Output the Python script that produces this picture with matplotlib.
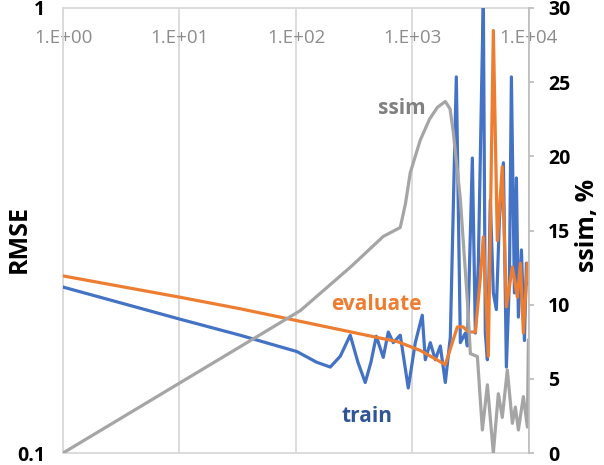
import numpy as np
import matplotlib.pyplot as plt
from matplotlib.ticker import NullLocator

plt.rcParams['font.family'] = ['Open Sans', 'DejaVu Sans']

# train RMSE
train_x = [1, 10, 33, 102, 150, 197, 240, 292, 340, 393, 440, 489, 561, 620, 684, 785,
           920, 1057, 1213, 1288, 1422, 1570, 1733, 1913, 2112, 2378, 2576, 2843, 2958,
           3265, 3465, 3676, 3899, 4056, 4219, 4395, 4656, 4943, 5248, 5570, 6030,
           6397, 6792, 7063, 7499, 7798, 8110, 8610, 9141, 9506, 9885]
train_rmse = [0.236, 0.200, 0.184, 0.169, 0.160, 0.156, 0.165, 0.184, 0.160, 0.144,
              0.160, 0.183, 0.164, 0.187, 0.177, 0.184, 0.140, 0.177, 0.204, 0.162,
              0.177, 0.162, 0.174, 0.144, 0.182, 0.700, 0.177, 0.186, 0.174, 0.460,
              0.186, 0.267, 0.612, 1.05, 0.186, 0.162, 0.370, 0.229, 0.210, 0.334,
              0.449, 0.156, 0.245, 0.700, 0.229, 0.415, 0.202, 0.286, 0.179, 0.267,
              0.241]

# evaluate RMSE
eval_x = [1, 10, 33, 489, 740, 1167, 1913, 2427, 2729, 3015, 3465, 3823, 4056, 4478,
          4943, 5350, 5900, 6400, 7200, 7950, 8440, 8950, 9690, 9885]
eval_rmse = [0.250, 0.224, 0.211, 0.182, 0.178, 0.170, 0.158, 0.192, 0.192, 0.187,
             0.187, 0.248, 0.306, 0.165, 0.890, 0.300, 0.440, 0.213, 0.262, 0.224,
             0.267, 0.186, 0.267, 0.245]

# ssim, %
ssim_x = [1, 109, 300, 561, 785, 870, 957, 1167, 1400, 1635, 1913, 2100, 2243, 2576,
          2958, 3140, 3606, 3980, 4395, 4943, 5457, 5900, 6518, 7200, 7640, 8110,
          8950, 9690, 9885]
ssim_pct = [0, 9.6, 12.6, 14.6, 15.2, 16.8, 18.9, 21.1, 22.5, 23.3, 23.7, 23.2, 21.6,
            17.1, 10.3, 6.7, 6.5, 1.55, 4.6, 0, 4.0, 2.4, 5.6, 2.0, 3.1, 1.55, 3.8,
            1.75, 7.6]

x_ticks = [1, 10, 100, 1000, 10000]
x_labels = ['1.E+00', '1.E+01', '1.E+02', '1.E+03', '1.E+04']
rmse_ticks = [0.1, 1]
rmse_labels = ['0.1', '1']
ssim_ticks = [0, 5, 10, 15, 20, 25, 30]

blue = '#4472C4'
orange = '#ED7D31'
gray = '#A5A5A5'
grid_c = '#D9D9D9'

fig = plt.figure(figsize=(6.04, 4.65), dpi=100)
ax = fig.add_axes([0.1043, 0.0258, 0.7715, 0.957])
ax.set_xscale('log')
ax.set_yscale('log')
ax.set_xlim(1, 1e4)
ax.set_ylim(0.1, 1)

ax.plot(train_x, train_rmse, color=blue, lw=2.3, zorder=3, solid_joinstyle='round')
ax.plot(eval_x, eval_rmse, color=orange, lw=2.3, zorder=4, solid_joinstyle='round')

ax.set_xticks(x_ticks)
ax.set_xticklabels(x_labels)
ax.xaxis.set_minor_locator(NullLocator())
ax.xaxis.set_ticks_position('top')
ax.tick_params(axis='x', length=0, labelcolor='#8C8C8C', labelsize=13.5, pad=-28,
               top=True, bottom=False, labeltop=True, labelbottom=False)
ax.set_yticks(rmse_ticks)
ax.set_yticklabels(rmse_labels, fontweight='bold')
ax.yaxis.set_minor_locator(NullLocator())
ax.tick_params(axis='y', length=0, labelsize=14, pad=13)
ax.grid(axis='x', color=grid_c, lw=1.3)
ax.set_axisbelow(True)
for s in ['top', 'left', 'bottom']:
    ax.spines[s].set_color(grid_c)
    ax.spines[s].set_linewidth(1.3)
ax.spines['right'].set_visible(False)

ax.set_ylabel('RMSE', fontsize=18, fontweight='bold')
ax.yaxis.set_label_coords(-0.067, 0.481)

ax2 = ax.twinx()
ax2.plot(ssim_x, ssim_pct, color=gray, lw=2.3, solid_joinstyle='round')
ax2.set_ylim(0, 30)
ax2.set_yticks(ssim_ticks)
ax2.set_yticklabels([str(t) for t in ssim_ticks], fontweight='bold')
ax2.tick_params(axis='y', direction='out', length=3.6, width=1.3, color='#BFBFBF',
                labelsize=14, pad=10)
for s in ['top', 'left', 'bottom']:
    ax2.spines[s].set_visible(False)
ax2.spines['right'].set_color('#BFBFBF')
ax2.spines['right'].set_linewidth(1.3)
ax2.set_ylabel('ssim, %', fontsize=18, fontweight='bold')
ax2.yaxis.set_label_coords(1.099, 0.512)

ax.text(0.727, 0.775, 'ssim', transform=ax.transAxes, color='#808080',
        fontsize=15, fontweight='bold', ha='center', va='center')
ax.text(0.673, 0.333, 'evaluate', transform=ax.transAxes, color=orange,
        fontsize=15, fontweight='bold', ha='center', va='center')
ax.text(0.652, 0.082, 'train', transform=ax.transAxes, color='#2F5597',
        fontsize=15, fontweight='bold', ha='center', va='center')

fig.savefig('out.png', dpi=100)
